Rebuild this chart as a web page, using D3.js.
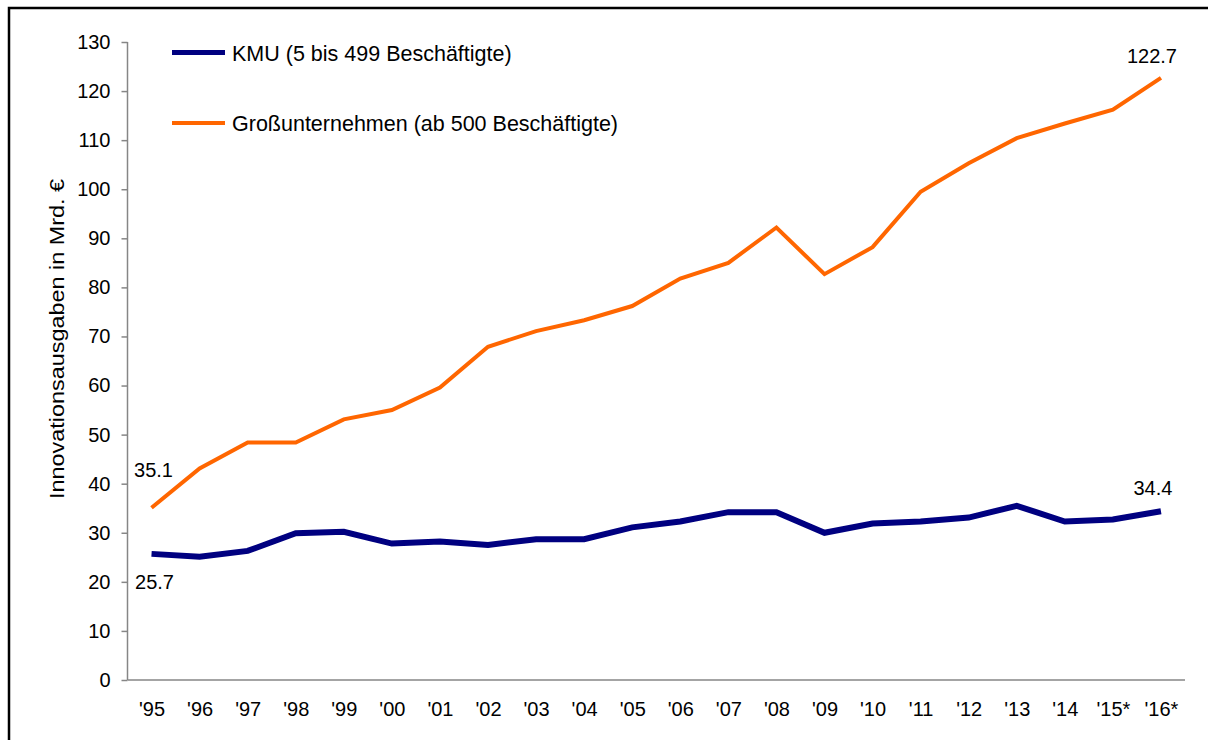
<!doctype html>
<html>
  <head>
    <meta charset="utf-8">
    <title>Innovationsausgaben KMU vs. Großunternehmen</title>
    <script src="https://cdnjs.cloudflare.com/ajax/libs/d3/7.8.5/d3.min.js"></script>
    <style>
      body { margin: 0; background: #fff; }
      text { font-family: "Liberation Sans", Arial, sans-serif; fill: #000; }
    </style>
  </head>
  <body>
    <div id="chart"></div>

    <script>
      // data, in Mrd. Euro
      const years = ["'95","'96","'97","'98","'99","'00","'01","'02","'03","'04","'05",
                     "'06","'07","'08","'09","'10","'11","'12","'13","'14","'15*","'16*"];
      const kmu = [25.7, 25.1, 26.3, 29.9, 30.2, 27.8, 28.2, 27.5, 28.7, 28.7, 31.1,
                   32.3, 34.2, 34.2, 30.0, 31.9, 32.3, 33.1, 35.5, 32.3, 32.7, 34.4];
      const gross = [35.1, 43.1, 48.4, 48.4, 53.1, 55.0, 59.6, 67.9, 71.1, 73.3, 76.2,
                     81.8, 85.0, 92.2, 82.7, 88.2, 99.5, 105.3, 110.4, 113.4, 116.2, 122.7];
      const yTicks = [0, 10, 20, 30, 40, 50, 60, 70, 80, 90, 100, 110, 120, 130];
      const seriesNames = ["KMU (5 bis 499 Beschäftigte)", "Großunternehmen (ab 500 Beschäftigte)"];

      const W = 1208, H = 740;
      const svg = d3.select('#chart').append('svg')
        .attr('width', W)
        .attr('height', H);

      // outer frame
      svg.append('rect')
        .attr('x', 9).attr('y', 8)
        .attr('width', W + 20).attr('height', H + 20)
        .attr('fill', 'none')
        .attr('stroke', '#000')
        .attr('stroke-width', 2.5);

      // scales
      const x = d3.scalePoint().domain(years).range([127.5, 1185]).padding(0.5);
      const y = d3.scaleLinear().domain([0, 130]).range([680, 42]);

      // y axis
      const yAxis = svg.append('g')
        .attr('transform', 'translate(127.5,0)')
        .call(d3.axisLeft(y).tickValues(yTicks).tickSize(6).tickPadding(11).tickFormat(d3.format('d')));
      yAxis.selectAll('line, path').attr('stroke', '#868686').attr('stroke-width', 1.5);
      yAxis.select('.domain').attr('d', 'M0,' + y(130) + 'V' + y(0));
      yAxis.selectAll('text').attr('font-size', 20).attr('fill', '#000')
        .attr('font-family', '"Liberation Sans", Arial, sans-serif');

      // x axis
      const xAxis = svg.append('g')
        .attr('transform', 'translate(0,680)')
        .call(d3.axisBottom(x).tickSize(0).tickPadding(22));
      xAxis.select('.domain').attr('stroke', '#868686').attr('stroke-width', 1.5)
        .attr('d', 'M127.5,0H1185');
      xAxis.selectAll('text').attr('font-size', 20).attr('fill', '#000')
        .attr('font-family', '"Liberation Sans", Arial, sans-serif');

      // y axis title (stretched a bit, like the original)
      svg.append('text')
        .attr('transform', 'translate(64,339) rotate(-90)')
        .attr('text-anchor', 'middle')
        .attr('font-size', 21)
        .attr('textLength', 320)
        .attr('lengthAdjust', 'spacingAndGlyphs')
        .text('Innovationsausgaben in Mrd. €');

      // lines
      const line = d3.line()
        .x((d, i) => x(years[i]))
        .y(d => y(d));

      svg.append('path')
        .datum(gross)
        .attr('d', line)
        .attr('fill', 'none')
        .attr('stroke', '#ff6600')
        .attr('stroke-width', 4);

      svg.append('path')
        .datum(kmu)
        .attr('d', line)
        .attr('fill', 'none')
        .attr('stroke', '#000080')
        .attr('stroke-width', 6);

      // value labels at start and end
      const last = years.length - 1;
      const valueLabels = [
        { v: gross[0], x: x(years[0]) + 2, y: y(gross[0]) - 31 },
        { v: kmu[0], x: x(years[0]) + 3, y: y(kmu[0]) + 35 },
        { v: gross[last], x: x(years[last]) - 9, y: y(gross[last]) - 15 },
        { v: kmu[last], x: x(years[last]) - 8, y: y(kmu[last]) - 16 }
      ];
      svg.selectAll('.vlabel')
        .data(valueLabels)
        .join('text')
        .attr('class', 'vlabel')
        .attr('x', d => d.x)
        .attr('y', d => d.y)
        .attr('text-anchor', 'middle')
        .attr('font-size', 20)
        .text(d => d3.format('.1f')(d.v));

      // legend
      const legend = svg.selectAll('.legend')
        .data(seriesNames)
        .join('g')
        .attr('class', 'legend')
        .attr('transform', (d, i) => 'translate(172,' + (52.5 + i * 70.5) + ')');
      legend.append('line')
        .attr('x1', 0).attr('x2', 53)
        .attr('stroke', (d, i) => i === 0 ? '#000080' : '#ff6600')
        .attr('stroke-width', (d, i) => i === 0 ? 5 : 4);
      legend.append('text')
        .attr('x', 60)
        .attr('y', 8)
        .attr('font-size', 21.5)
        .text(d => d);
    </script>
  </body>
</html>
